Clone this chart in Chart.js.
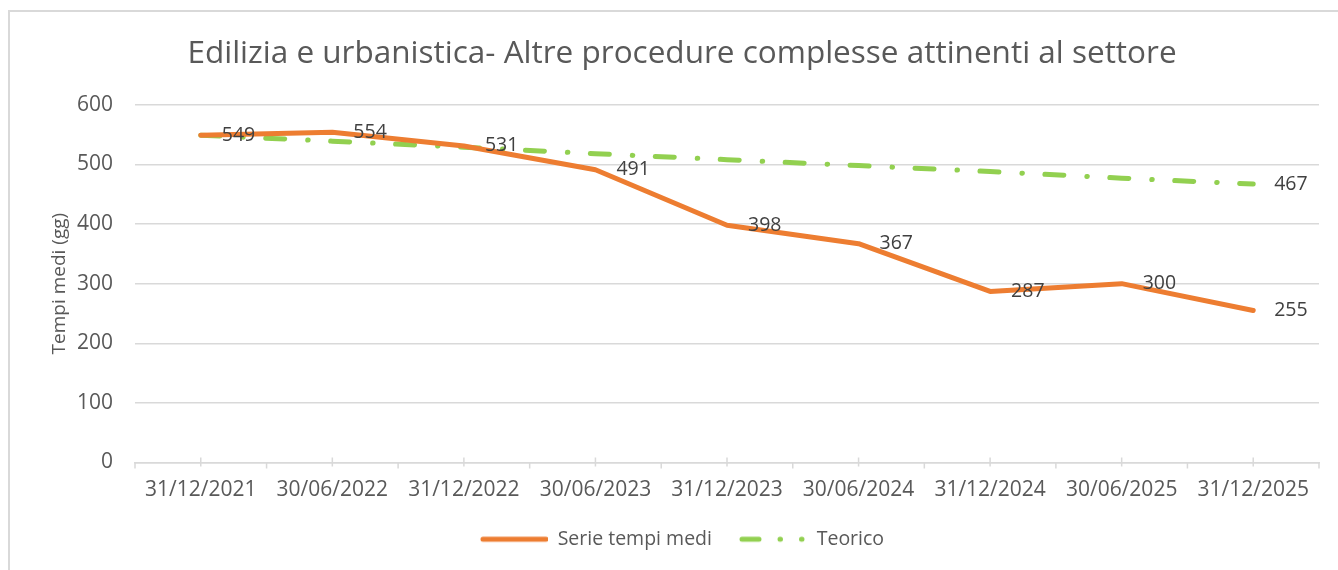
<!DOCTYPE html>
<html><head><meta charset="utf-8">
<script src="https://cdn.jsdelivr.net/npm/chart.js@4.4.1/dist/chart.umd.min.js"></script>
<style>
html,body{margin:0;padding:0;background:#fff;width:1338px;height:570px;overflow:hidden}
#frame{position:absolute;left:8px;top:10px;width:1400px;height:620px;border:2px solid #d9d9d9;box-sizing:border-box}
#wrap{position:absolute;left:0;top:0;width:1338px;height:570px}
</style></head><body>
<div id="frame"></div>
<div id="wrap"><canvas id="c" width="1338" height="570"></canvas></div>
<script>
const categories = ['31/12/2021','30/06/2022','31/12/2022','30/06/2023','31/12/2023','30/06/2024','31/12/2024','30/06/2025','31/12/2025'];
const serieTempiMedi = [549, 554, 531, 491, 398, 367, 287, 300, 255];
const teorico = [549, 539, 529, 518, 508, 498, 488, 477, 467];
const yTickValues = [0, 100, 200, 300, 400, 500, 600];
const seriesNames = ['Serie tempi medi', 'Teorico'];
const chartTitle = 'Edilizia e urbanistica- Altre procedure complesse attinenti al settore';
const yAxisTitle = 'Tempi medi (gg)';

const FONT = '"Open Sans", "Noto Sans", sans-serif';
const GRAY = '#595959';
const ORANGE = '#ED7D31';
const GREEN = '#92D050';

function legendSample(color, dash) {
  const c = document.createElement('canvas');
  c.width = 68; c.height = 8;
  const g = c.getContext('2d');
  g.strokeStyle = color;
  g.lineWidth = 5;
  g.lineCap = 'round';
  g.setLineDash(dash);
  g.beginPath();
  g.moveTo(3, 4); g.lineTo(66, 4);
  g.stroke();
  return c;
}

const labelPlugin = {
  id: 'pointLabels',
  afterDatasetsDraw(chart) {
    const ctx = chart.ctx;
    ctx.save();
    ctx.font = '19.5px ' + FONT;
    ctx.fillStyle = '#404040';
    ctx.textBaseline = 'middle';
    ctx.textAlign = 'left';
    chart.data.datasets.forEach((ds, di) => {
      const meta = chart.getDatasetMeta(di);
      meta.data.forEach((pt, i) => {
        if (ds.showLabelAt && !ds.showLabelAt.includes(i)) return;
        ctx.fillText(String(ds.data[i]), pt.x + 21, pt.y);
      });
    });
    ctx.restore();
  }
};

const tickPlugin = {
  id: 'axisTicks',
  afterDraw(chart) {
    const xs = chart.scales.x;
    const ctx = chart.ctx;
    const y0 = xs.top;
    const n = categories.length;
    const step = n > 1 ? (xs.getPixelForValue(1) - xs.getPixelForValue(0)) : xs.width;
    ctx.save();
    ctx.strokeStyle = '#d9d9d9';
    ctx.lineWidth = 1.5;
    ctx.beginPath();
    for (let i = 0; i < n; i++) {
      const cx = xs.getPixelForValue(i);
      ctx.moveTo(cx, y0 - 5); ctx.lineTo(cx, y0 + 4);
      ctx.moveTo(cx - step / 2, y0); ctx.lineTo(cx - step / 2, y0 + 6);
      if (i === n - 1) { ctx.moveTo(cx + step / 2, y0); ctx.lineTo(cx + step / 2, y0 + 6); }
    }
    ctx.stroke();
    ctx.restore();
  }
};

new Chart(document.getElementById('c'), {
  type: 'line',
  data: {
    labels: categories,
    datasets: [
      {
        label: seriesNames[0],
        data: serieTempiMedi,
        borderColor: ORANGE,
        backgroundColor: ORANGE,
        borderWidth: 5,
        pointRadius: 0,
        pointHoverRadius: 0,
        pointStyle: legendSample(ORANGE, []),
        tension: 0,
        borderCapStyle: 'round',
        borderJoinStyle: 'round'
      },
      {
        label: seriesNames[1],
        data: teorico,
        borderColor: GREEN,
        backgroundColor: GREEN,
        borderWidth: 5,
        borderDash: [19, 23, 0.5, 22.5],
        borderCapStyle: 'round',
        pointRadius: 0,
        pointHoverRadius: 0,
        pointStyle: legendSample(GREEN, [17, 21, 0.5, 21, 0.5, 30]),
        tension: 0,
        showLabelAt: [8]
      }
    ]
  },
  options: {
    responsive: false,
    animation: false,
    events: [],
    layout: { padding: { left: 45, right: 19, top: 0, bottom: 11 } },
    scales: {
      x: {
        offset: true,
        afterFit(s) { s.height = 40; },
        grid: { display: false, drawTicks: false },
        border: { display: true, color: '#d9d9d9', width: 1.5 },
        ticks: { color: GRAY, font: { family: FONT, size: 21 }, padding: 15, maxRotation: 0, autoSkip: false }
      },
      y: {
        min: 0, max: 600,
        afterBuildTicks(s) { s.ticks = yTickValues.map(v => ({ value: v })); },
        afterFit(s) { s.width = 90; },
        grid: { color: '#d9d9d9', lineWidth: 1.5, drawTicks: false },
        border: { display: false },
        ticks: { color: GRAY, font: { family: FONT, size: 21 }, padding: 22 },
        title: { display: true, text: yAxisTitle, color: GRAY, font: { family: FONT, size: 19 }, padding: { top: 3, bottom: 4 } }
      }
    },
    plugins: {
      title: {
        display: true, text: chartTitle, color: GRAY,
        font: { family: FONT, size: 31.5, weight: 'normal' },
        padding: { top: 35, bottom: 32 }
      },
      legend: {
        position: 'bottom',
        labels: {
          usePointStyle: true, pointStyleWidth: 68,
          color: GRAY, font: { family: FONT, size: 19.5 }, padding: 27
        }
      },
      tooltip: { enabled: false }
    }
  },
  plugins: [labelPlugin, tickPlugin]
});
</script>
</body></html>
